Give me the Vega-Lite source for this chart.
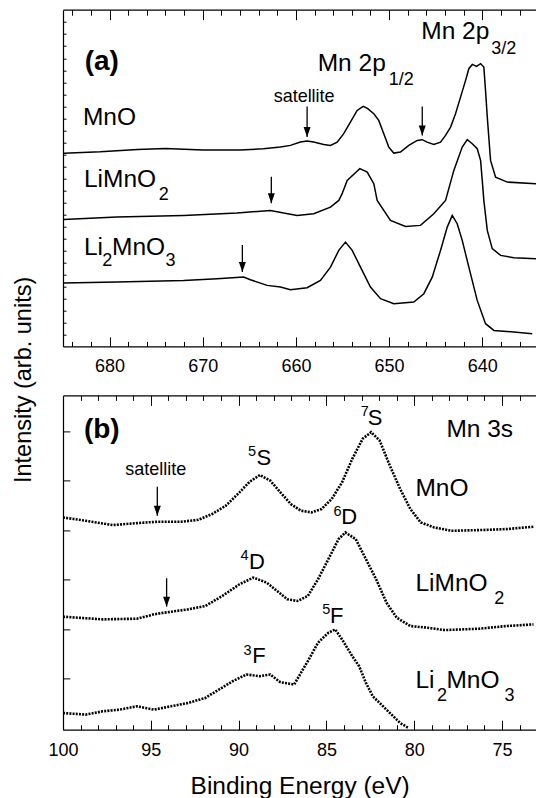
{
  "$schema": "https://vega.github.io/schema/vega-lite/v6.json",
  "padding": {"left": 10, "top": 8.7, "right": 0, "bottom": 0},
  "spacing": 48.7,
  "bounds": "flush",
  "config": {
    "view": {"stroke": null},
    "font": "Liberation Sans",
    "axis": {"domainColor": "black", "tickColor": "black", "labelColor": "black", "titleColor": "black", "labelFont": "Liberation Sans", "titleFont": "Liberation Sans", "grid": false, "domainWidth": 1.2, "tickWidth": 1, "labelFlush": false, "labelOverlap": false}
  },
  "datasets": {
    "curvesA": [
      {"s":"MnO","E":684.9,"I":57.4},{"s":"MnO","E":681,"I":57.8},{"s":"MnO","E":677,"I":58.5},{"s":"MnO","E":674,"I":58.8},{"s":"MnO","E":670,"I":58.3},{"s":"MnO","E":666,"I":58.3},{"s":"MnO","E":663.5,"I":58.7},{"s":"MnO","E":661.66,"I":59.19},{"s":"MnO","E":660.59,"I":59.7},{"s":"MnO","E":659.52,"I":60.68},{"s":"MnO","E":658.8,"I":60.98},{"s":"MnO","E":658.09,"I":60.68},{"s":"MnO","E":657.01,"I":59.99},{"s":"MnO","E":656.29,"I":59.7},{"s":"MnO","E":655.57,"I":60.68},{"s":"MnO","E":654.87,"I":63.17},{"s":"MnO","E":654.15,"I":66.62},{"s":"MnO","E":653.43,"I":70.09},{"s":"MnO","E":652.78,"I":71.28},{"s":"MnO","E":652.29,"I":70.6},{"s":"MnO","E":651.64,"I":69.11},{"s":"MnO","E":651.11,"I":67.12},{"s":"MnO","E":650.57,"I":63.17},{"s":"MnO","E":650.03,"I":59.19},{"s":"MnO","E":649.5,"I":57.41},{"s":"MnO","E":648.78,"I":57.71},{"s":"MnO","E":647.88,"I":59.7},{"s":"MnO","E":646.98,"I":61.18},{"s":"MnO","E":646.44,"I":61.39},{"s":"MnO","E":645.91,"I":60.68},{"s":"MnO","E":645.2,"I":59.99},{"s":"MnO","E":644.48,"I":60.68},{"s":"MnO","E":643.94,"I":62.67},{"s":"MnO","E":643.4,"I":65.13},{"s":"MnO","E":642.87,"I":69.11},{"s":"MnO","E":642.33,"I":74.04},{"s":"MnO","E":641.79,"I":79.0},{"s":"MnO","E":641.44,"I":82.48},{"s":"MnO","E":641.07,"I":83.75},{"s":"MnO","E":640.61,"I":83.16},{"s":"MnO","E":640.18,"I":83.96},{"s":"MnO","E":639.83,"I":82.96},{"s":"MnO","E":639.65,"I":76.03},{"s":"MnO","E":639.46,"I":68.1},{"s":"MnO","E":639.11,"I":55.24},{"s":"MnO","E":638.57,"I":50.28},{"s":"MnO","E":637.31,"I":48.8},{"s":"MnO","E":634.2,"I":48.32},
      {"s":"LiMnO2","E":684.94,"I":37.72},{"s":"LiMnO2","E":679.21,"I":38.4},{"s":"LiMnO2","E":672.05,"I":38.91},{"s":"LiMnO2","E":666.32,"I":39.59},{"s":"LiMnO2","E":662.74,"I":40.39},{"s":"LiMnO2","E":661.31,"I":39.59},{"s":"LiMnO2","E":659.87,"I":38.91},{"s":"LiMnO2","E":658.09,"I":39.4},{"s":"LiMnO2","E":656.29,"I":41.37},{"s":"LiMnO2","E":655.4,"I":43.36},{"s":"LiMnO2","E":655.04,"I":45.35},{"s":"LiMnO2","E":654.5,"I":49.3},{"s":"LiMnO2","E":653.14,"I":52.78},{"s":"LiMnO2","E":652.35,"I":51.77},{"s":"LiMnO2","E":651.64,"I":48.32},{"s":"LiMnO2","E":651.28,"I":43.36},{"s":"LiMnO2","E":649.85,"I":37.42},{"s":"LiMnO2","E":648.24,"I":35.64},{"s":"LiMnO2","E":646.63,"I":35.94},{"s":"LiMnO2","E":645.2,"I":39.41},{"s":"LiMnO2","E":643.94,"I":43.36},{"s":"LiMnO2","E":643.05,"I":52.27},{"s":"LiMnO2","E":642.15,"I":59.19},{"s":"LiMnO2","E":641.61,"I":61.39},{"s":"LiMnO2","E":641.07,"I":60.2},{"s":"LiMnO2","E":640.54,"I":58.72},{"s":"LiMnO2","E":640.18,"I":55.24},{"s":"LiMnO2","E":640.0,"I":49.3},{"s":"LiMnO2","E":639.83,"I":43.36},{"s":"LiMnO2","E":639.46,"I":34.45},{"s":"LiMnO2","E":638.93,"I":29.02},{"s":"LiMnO2","E":638.03,"I":27.03},{"s":"LiMnO2","E":636.61,"I":26.34},{"s":"LiMnO2","E":634.2,"I":26.05},
      {"s":"Li2MnO3","E":684.94,"I":18.8},{"s":"Li2MnO3","E":679.21,"I":19.1},{"s":"Li2MnO3","E":672.05,"I":19.6},{"s":"Li2MnO3","E":668.46,"I":20.11},{"s":"Li2MnO3","E":665.61,"I":20.58},{"s":"Li2MnO3","E":664.89,"I":19.81},{"s":"Li2MnO3","E":663.09,"I":18.12},{"s":"Li2MnO3","E":661.66,"I":17.61},{"s":"Li2MnO3","E":660.59,"I":16.84},{"s":"Li2MnO3","E":658.8,"I":17.43},{"s":"Li2MnO3","E":657.37,"I":19.6},{"s":"Li2MnO3","E":656.29,"I":23.55},{"s":"Li2MnO3","E":655.4,"I":28.51},{"s":"Li2MnO3","E":654.68,"I":30.98},{"s":"Li2MnO3","E":653.96,"I":28.51},{"s":"Li2MnO3","E":653.07,"I":23.55},{"s":"Li2MnO3","E":652.0,"I":17.61},{"s":"Li2MnO3","E":650.92,"I":14.17},{"s":"Li2MnO3","E":649.5,"I":12.68},{"s":"Li2MnO3","E":647.35,"I":13.16},{"s":"Li2MnO3","E":646.27,"I":15.65},{"s":"Li2MnO3","E":645.37,"I":20.58},{"s":"Li2MnO3","E":644.48,"I":28.51},{"s":"Li2MnO3","E":643.76,"I":35.43},{"s":"Li2MnO3","E":643.22,"I":38.91},{"s":"Li2MnO3","E":642.69,"I":36.44},{"s":"Li2MnO3","E":642.15,"I":31.48},{"s":"Li2MnO3","E":641.44,"I":23.55},{"s":"Li2MnO3","E":640.54,"I":13.66},{"s":"Li2MnO3","E":639.65,"I":6.74},{"s":"Li2MnO3","E":638.75,"I":4.75},{"s":"Li2MnO3","E":636.61,"I":4.25},{"s":"Li2MnO3","E":634.63,"I":3.77}
    ],
    "curvesB": [
      {"s":"MnO","E":100,"I":63.5},{"s":"MnO","E":98.71,"I":62.5},{"s":"MnO","E":97.16,"I":61.2},{"s":"MnO","E":95.79,"I":61.8},{"s":"MnO","E":94.63,"I":62.2},{"s":"MnO","E":93.26,"I":62.2},{"s":"MnO","E":92.29,"I":62.8},{"s":"MnO","E":91.51,"I":64.5},{"s":"MnO","E":90.73,"I":67.0},{"s":"MnO","E":89.95,"I":71.0},{"s":"MnO","E":89.37,"I":74.2},{"s":"MnO","E":88.79,"I":76.2},{"s":"MnO","E":88.2,"I":74.5},{"s":"MnO","E":87.62,"I":71.0},{"s":"MnO","E":87.03,"I":67.5},{"s":"MnO","E":86.45,"I":65.5},{"s":"MnO","E":85.86,"I":65.0},{"s":"MnO","E":85.28,"I":66.0},{"s":"MnO","E":84.7,"I":69.0},{"s":"MnO","E":84.11,"I":74.0},{"s":"MnO","E":83.53,"I":81.0},{"s":"MnO","E":82.94,"I":87.0},{"s":"MnO","E":82.46,"I":89.0},{"s":"MnO","E":81.97,"I":86.5},{"s":"MnO","E":81.39,"I":79.0},{"s":"MnO","E":80.8,"I":72.0},{"s":"MnO","E":80.22,"I":66.0},{"s":"MnO","E":79.63,"I":62.0},{"s":"MnO","E":78.86,"I":60.5},{"s":"MnO","E":77.88,"I":59.5},{"s":"MnO","E":76.32,"I":59.7},{"s":"MnO","E":74.77,"I":60.0},{"s":"MnO","E":73.21,"I":60.7},
      {"s":"LiMnO2","E":100,"I":33.8},{"s":"LiMnO2","E":97.74,"I":33.0},{"s":"LiMnO2","E":95.79,"I":33.2},{"s":"LiMnO2","E":94.82,"I":34.5},{"s":"LiMnO2","E":94.24,"I":35.0},{"s":"LiMnO2","E":92.87,"I":36.0},{"s":"LiMnO2","E":91.9,"I":37.0},{"s":"LiMnO2","E":90.93,"I":40.0},{"s":"LiMnO2","E":89.95,"I":43.5},{"s":"LiMnO2","E":89.17,"I":45.5},{"s":"LiMnO2","E":88.4,"I":44.0},{"s":"LiMnO2","E":87.81,"I":41.5},{"s":"LiMnO2","E":87.23,"I":39.0},{"s":"LiMnO2","E":86.64,"I":38.5},{"s":"LiMnO2","E":86.06,"I":40.0},{"s":"LiMnO2","E":85.48,"I":45.0},{"s":"LiMnO2","E":84.89,"I":51.0},{"s":"LiMnO2","E":84.31,"I":57.0},{"s":"LiMnO2","E":83.92,"I":59.0},{"s":"LiMnO2","E":83.33,"I":57.0},{"s":"LiMnO2","E":82.75,"I":51.0},{"s":"LiMnO2","E":82.17,"I":45.0},{"s":"LiMnO2","E":81.58,"I":38.0},{"s":"LiMnO2","E":81.0,"I":33.5},{"s":"LiMnO2","E":80.22,"I":31.0},{"s":"LiMnO2","E":79.24,"I":30.5},{"s":"LiMnO2","E":78.27,"I":29.8},{"s":"LiMnO2","E":76.32,"I":30.2},{"s":"LiMnO2","E":74.77,"I":31.0},{"s":"LiMnO2","E":73.21,"I":31.5},
      {"s":"Li2MnO3","E":100,"I":5.0},{"s":"Li2MnO3","E":98.71,"I":4.5},{"s":"Li2MnO3","E":97.74,"I":5.5},{"s":"Li2MnO3","E":96.77,"I":6.0},{"s":"Li2MnO3","E":95.79,"I":7.0},{"s":"Li2MnO3","E":94.82,"I":6.0},{"s":"Li2MnO3","E":93.85,"I":7.0},{"s":"Li2MnO3","E":92.87,"I":8.0},{"s":"Li2MnO3","E":91.9,"I":9.5},{"s":"Li2MnO3","E":91.12,"I":12.0},{"s":"Li2MnO3","E":90.34,"I":14.5},{"s":"Li2MnO3","E":89.56,"I":16.5},{"s":"Li2MnO3","E":88.79,"I":16.0},{"s":"Li2MnO3","E":88.2,"I":16.5},{"s":"Li2MnO3","E":87.62,"I":14.2},{"s":"Li2MnO3","E":86.84,"I":13.5},{"s":"Li2MnO3","E":86.45,"I":17.0},{"s":"Li2MnO3","E":86.06,"I":20.5},{"s":"Li2MnO3","E":85.48,"I":26.0},{"s":"Li2MnO3","E":84.89,"I":29.0},{"s":"Li2MnO3","E":84.5,"I":30.0},{"s":"Li2MnO3","E":84.11,"I":27.0},{"s":"Li2MnO3","E":83.53,"I":22.0},{"s":"Li2MnO3","E":83.14,"I":19.0},{"s":"Li2MnO3","E":82.75,"I":14.0},{"s":"Li2MnO3","E":82.36,"I":10.0},{"s":"Li2MnO3","E":81.78,"I":7.0},{"s":"Li2MnO3","E":81.19,"I":4.0},{"s":"Li2MnO3","E":80.8,"I":2.0},{"s":"Li2MnO3","E":80.32,"I":0.5}
    ],
    "textA": [
      {"t":"MnO","E":682.86,"I":67.8},{"t":"LiMnO","E":682.75,"I":49.4},{"t":"Li","E":682.75,"I":29.3},{"t":"MnO","E":679.74,"I":29.3},{"t":"Mn 2p","E":657.66,"I":83.96},{"t":"Mn 2p","E":646.55,"I":93.35}
    ],
    "subA": [
      {"t":"2","E":674.73,"I":44.9},{"t":"2","E":680.8,"I":25.3},{"t":"3","E":674.0,"I":25.3},{"t":"1/2","E":650.03,"I":79.0},{"t":"3/2","E":639.03,"I":88.4}
    ],
    "satA": [{"t":"satellite","E":659.12,"I":74.2}],
    "panelA": [{"t":"(a)","E":682.67,"I":84.6}],
    "arrowsA": [
      {"E":658.8,"Itop":71.28,"I":62.17},{"E":646.44,"Itop":71.28,"I":62.67},{"E":662.64,"Itop":50.4,"I":42.5},{"E":665.75,"Itop":30.1,"I":22.1}
    ],
    "textB": [
      {"t":"MnO","E":79.93,"I":72},{"t":"LiMnO","E":79.93,"I":43.5},{"t":"Li","E":79.93,"I":14.5},{"t":"MnO","E":78.17,"I":14.5},{"t":"Mn 3s","E":78.17,"I":89.5}
    ],
    "subB": [{"t":"2","E":75.45,"I":39},{"t":"2","E":78.7,"I":10},{"t":"3","E":74.86,"I":10}],
    "termB": [
      {"t":"S","E":88.98,"I":81.2},{"t":"S","E":82.65,"I":93.2},{"t":"D","E":84.15,"I":63.5},{"t":"D","E":89.41,"I":50.2},{"t":"F","E":84.79,"I":34.0},{"t":"F","E":89.23,"I":22.0}
    ],
    "supB": [
      {"t":"5","E":89.47,"I":83},{"t":"7","E":83.04,"I":95},{"t":"6","E":84.6,"I":65},{"t":"4","E":89.9,"I":52},{"t":"5","E":85.24,"I":35.8},{"t":"3","E":89.72,"I":23.5}
    ],
    "satB": [{"t":"satellite","E":94.72,"I":77.7}],
    "panelB": [{"t":"(b)","E":98.81,"I":89.5}],
    "arrowsB": [{"E":94.63,"Itop":72.7,"I":64.0},{"E":94.1,"Itop":45.3,"I":36.8}]
  },
  "vconcat": [
    {
      "width": 473.3,
      "height": 336.7,
      "resolve": {"axis": {"x": "independent"}},
      "encoding": {
        "y": {"field": "I", "type": "quantitative", "scale": {"domain": [0, 100], "nice": false, "zero": false},
          "axis": {"orient": "left", "title": null, "labels": false, "tickSize": -3, "values": [96.3,92.73,89.16,85.59,82.02,78.45,74.88,71.31,67.74,64.17,60.6,57.03,53.46,49.89,46.32,42.75,39.18,35.61,32.04,28.47,24.9,21.33,17.76,14.19,10.62,7.05,3.48]}}
      },
      "layer": [
        {"data": {"name": "curvesA"}, "mark": {"type": "line", "color": "black", "strokeWidth": 1.5, "clip": true},
          "encoding": {"x": {"field": "E", "type": "quantitative", "scale": {"domain": [634.2, 685], "reverse": true, "nice": false, "zero": false},
            "axis": {"orient": "bottom", "title": null, "values": [684,682,680,678,676,674,672,670,668,666,664,662,660,658,656,654,652,650,648,646,644,642,640,638,636],
              "tickSize": {"condition": {"test": "datum.value % 10 === 0", "value": -9.5}, "value": -5},
              "labelExpr": "datum.value % 10 === 0 ? datum.label : ''", "labelFontSize": 18, "labelPadding": 20.8}},
            "detail": {"field": "s"}}},
        {"data": {"name": "arrowsA"}, "mark": {"type": "rule", "color": "black", "strokeWidth": 1.3},
          "encoding": {"x": {"field": "E", "type": "quantitative", "scale": {"domain": [634.2, 685], "reverse": true, "nice": false, "zero": false},
            "axis": {"orient": "top", "title": null, "labels": false, "values": [684,682,680,678,676,674,672,670,668,666,664,662,660,658,656,654,652,650,648,646,644,642,640,638,636],
              "tickSize": {"condition": {"test": "datum.value % 10 === 0", "value": -10}, "value": -5.5}}},
            "y2": {"field": "Itop"}}},
        {"data": {"name": "arrowsA"}, "mark": {"type": "point", "shape": "M -0.35 -1 L 0.35 -1 L 0 0 Z", "filled": true, "size": 400, "color": "black", "opacity": 1, "strokeWidth": 0},
          "encoding": {"x": {"field": "E", "type": "quantitative", "scale": {"domain": [634.2, 685], "reverse": true, "nice": false, "zero": false}, "axis": null}}},
        {"data": {"name": "textA"}, "mark": {"type": "text", "align": "left", "baseline": "middle", "fontSize": 24.5, "font": "Liberation Sans", "color": "black"},
          "encoding": {"x": {"field": "E", "type": "quantitative", "scale": {"domain": [634.2, 685], "reverse": true, "nice": false, "zero": false}, "axis": null}, "text": {"field": "t"}}},
        {"data": {"name": "subA"}, "mark": {"type": "text", "align": "left", "baseline": "middle", "fontSize": 18, "font": "Liberation Sans", "color": "black"},
          "encoding": {"x": {"field": "E", "type": "quantitative", "scale": {"domain": [634.2, 685], "reverse": true, "nice": false, "zero": false}, "axis": null}, "text": {"field": "t"}}},
        {"data": {"name": "satA"}, "mark": {"type": "text", "align": "center", "baseline": "middle", "fontSize": 18, "font": "Liberation Sans", "color": "black"},
          "encoding": {"x": {"field": "E", "type": "quantitative", "scale": {"domain": [634.2, 685], "reverse": true, "nice": false, "zero": false}, "axis": null}, "text": {"field": "t"}}},
        {"data": {"name": "panelA"}, "mark": {"type": "text", "align": "left", "baseline": "middle", "fontSize": 28, "fontWeight": "bold", "font": "Liberation Sans", "color": "black"},
          "encoding": {"x": {"field": "E", "type": "quantitative", "scale": {"domain": [634.2, 685], "reverse": true, "nice": false, "zero": false}, "axis": null}, "text": {"field": "t"}}}
      ]
    },
    {
      "width": 473.3,
      "height": 334.3,
      "resolve": {"axis": {"x": "independent"}},
      "encoding": {
        "y": {"field": "I", "type": "quantitative", "scale": {"domain": [0, 100], "nice": false, "zero": false},
          "axis": {"orient": "left", "title": "Intensity (arb. units)", "titleFontSize": 23.5, "titleFontWeight": "normal", "titleAngle": -90, "titleX": -40, "titleY": -16, "titleAlign": "center", "titleBaseline": "middle", "labels": false, "tickSize": -6.8, "values": [15.3, 30.1, 44.9, 59.7, 74.5, 89.3]}}
      },
      "layer": [
        {"data": {"name": "curvesB"}, "mark": {"type": "line", "color": "black", "strokeWidth": 2.6, "strokeDash": [2, 1.2], "clip": true},
          "encoding": {"x": {"field": "E", "type": "quantitative", "scale": {"domain": [73.05, 100], "reverse": true, "nice": false, "zero": false},
            "axis": {"orient": "bottom", "title": "Binding Energy (eV)", "titleFontSize": 24.5, "titleFontWeight": "normal", "titleBaseline": "top", "titleY": 45,
              "values": [100,99,98,97,96,95,94,93,92,91,90,89,88,87,86,85,84,83,82,81,80,79,78,77,76,75,74],
              "tickSize": {"condition": {"test": "datum.value % 5 === 0", "value": -9.5}, "value": -5},
              "labelExpr": "datum.value % 5 === 0 ? datum.label : ''", "labelFontSize": 18, "labelPadding": 21.4}},
            "detail": {"field": "s"}}},
        {"data": {"name": "arrowsB"}, "mark": {"type": "rule", "color": "black", "strokeWidth": 1.3},
          "encoding": {"x": {"field": "E", "type": "quantitative", "scale": {"domain": [73.05, 100], "reverse": true, "nice": false, "zero": false},
            "axis": {"orient": "top", "title": null, "labels": false, "values": [100,99,98,97,96,95,94,93,92,91,90,89,88,87,86,85,84,83,82,81,80,79,78,77,76,75,74],
              "tickSize": {"condition": {"test": "datum.value % 5 === 0", "value": -10}, "value": -5}}},
            "y2": {"field": "Itop"}}},
        {"data": {"name": "arrowsB"}, "mark": {"type": "point", "shape": "M -0.35 -1 L 0.35 -1 L 0 0 Z", "filled": true, "size": 400, "color": "black", "opacity": 1, "strokeWidth": 0},
          "encoding": {"x": {"field": "E", "type": "quantitative", "scale": {"domain": [73.05, 100], "reverse": true, "nice": false, "zero": false}, "axis": null}}},
        {"data": {"name": "textB"}, "mark": {"type": "text", "align": "left", "baseline": "middle", "fontSize": 24.5, "font": "Liberation Sans", "color": "black"},
          "encoding": {"x": {"field": "E", "type": "quantitative", "scale": {"domain": [73.05, 100], "reverse": true, "nice": false, "zero": false}, "axis": null}, "text": {"field": "t"}}},
        {"data": {"name": "subB"}, "mark": {"type": "text", "align": "left", "baseline": "middle", "fontSize": 18, "font": "Liberation Sans", "color": "black"},
          "encoding": {"x": {"field": "E", "type": "quantitative", "scale": {"domain": [73.05, 100], "reverse": true, "nice": false, "zero": false}, "axis": null}, "text": {"field": "t"}}},
        {"data": {"name": "termB"}, "mark": {"type": "text", "align": "left", "baseline": "middle", "fontSize": 22, "font": "Liberation Sans", "color": "black"},
          "encoding": {"x": {"field": "E", "type": "quantitative", "scale": {"domain": [73.05, 100], "reverse": true, "nice": false, "zero": false}, "axis": null}, "text": {"field": "t"}}},
        {"data": {"name": "supB"}, "mark": {"type": "text", "align": "left", "baseline": "middle", "fontSize": 14.5, "font": "Liberation Sans", "color": "black"},
          "encoding": {"x": {"field": "E", "type": "quantitative", "scale": {"domain": [73.05, 100], "reverse": true, "nice": false, "zero": false}, "axis": null}, "text": {"field": "t"}}},
        {"data": {"name": "satB"}, "mark": {"type": "text", "align": "center", "baseline": "middle", "fontSize": 18, "font": "Liberation Sans", "color": "black"},
          "encoding": {"x": {"field": "E", "type": "quantitative", "scale": {"domain": [73.05, 100], "reverse": true, "nice": false, "zero": false}, "axis": null}, "text": {"field": "t"}}},
        {"data": {"name": "panelB"}, "mark": {"type": "text", "align": "left", "baseline": "middle", "fontSize": 28, "fontWeight": "bold", "font": "Liberation Sans", "color": "black"},
          "encoding": {"x": {"field": "E", "type": "quantitative", "scale": {"domain": [73.05, 100], "reverse": true, "nice": false, "zero": false}, "axis": null}, "text": {"field": "t"}}}
      ]
    }
  ]
}
